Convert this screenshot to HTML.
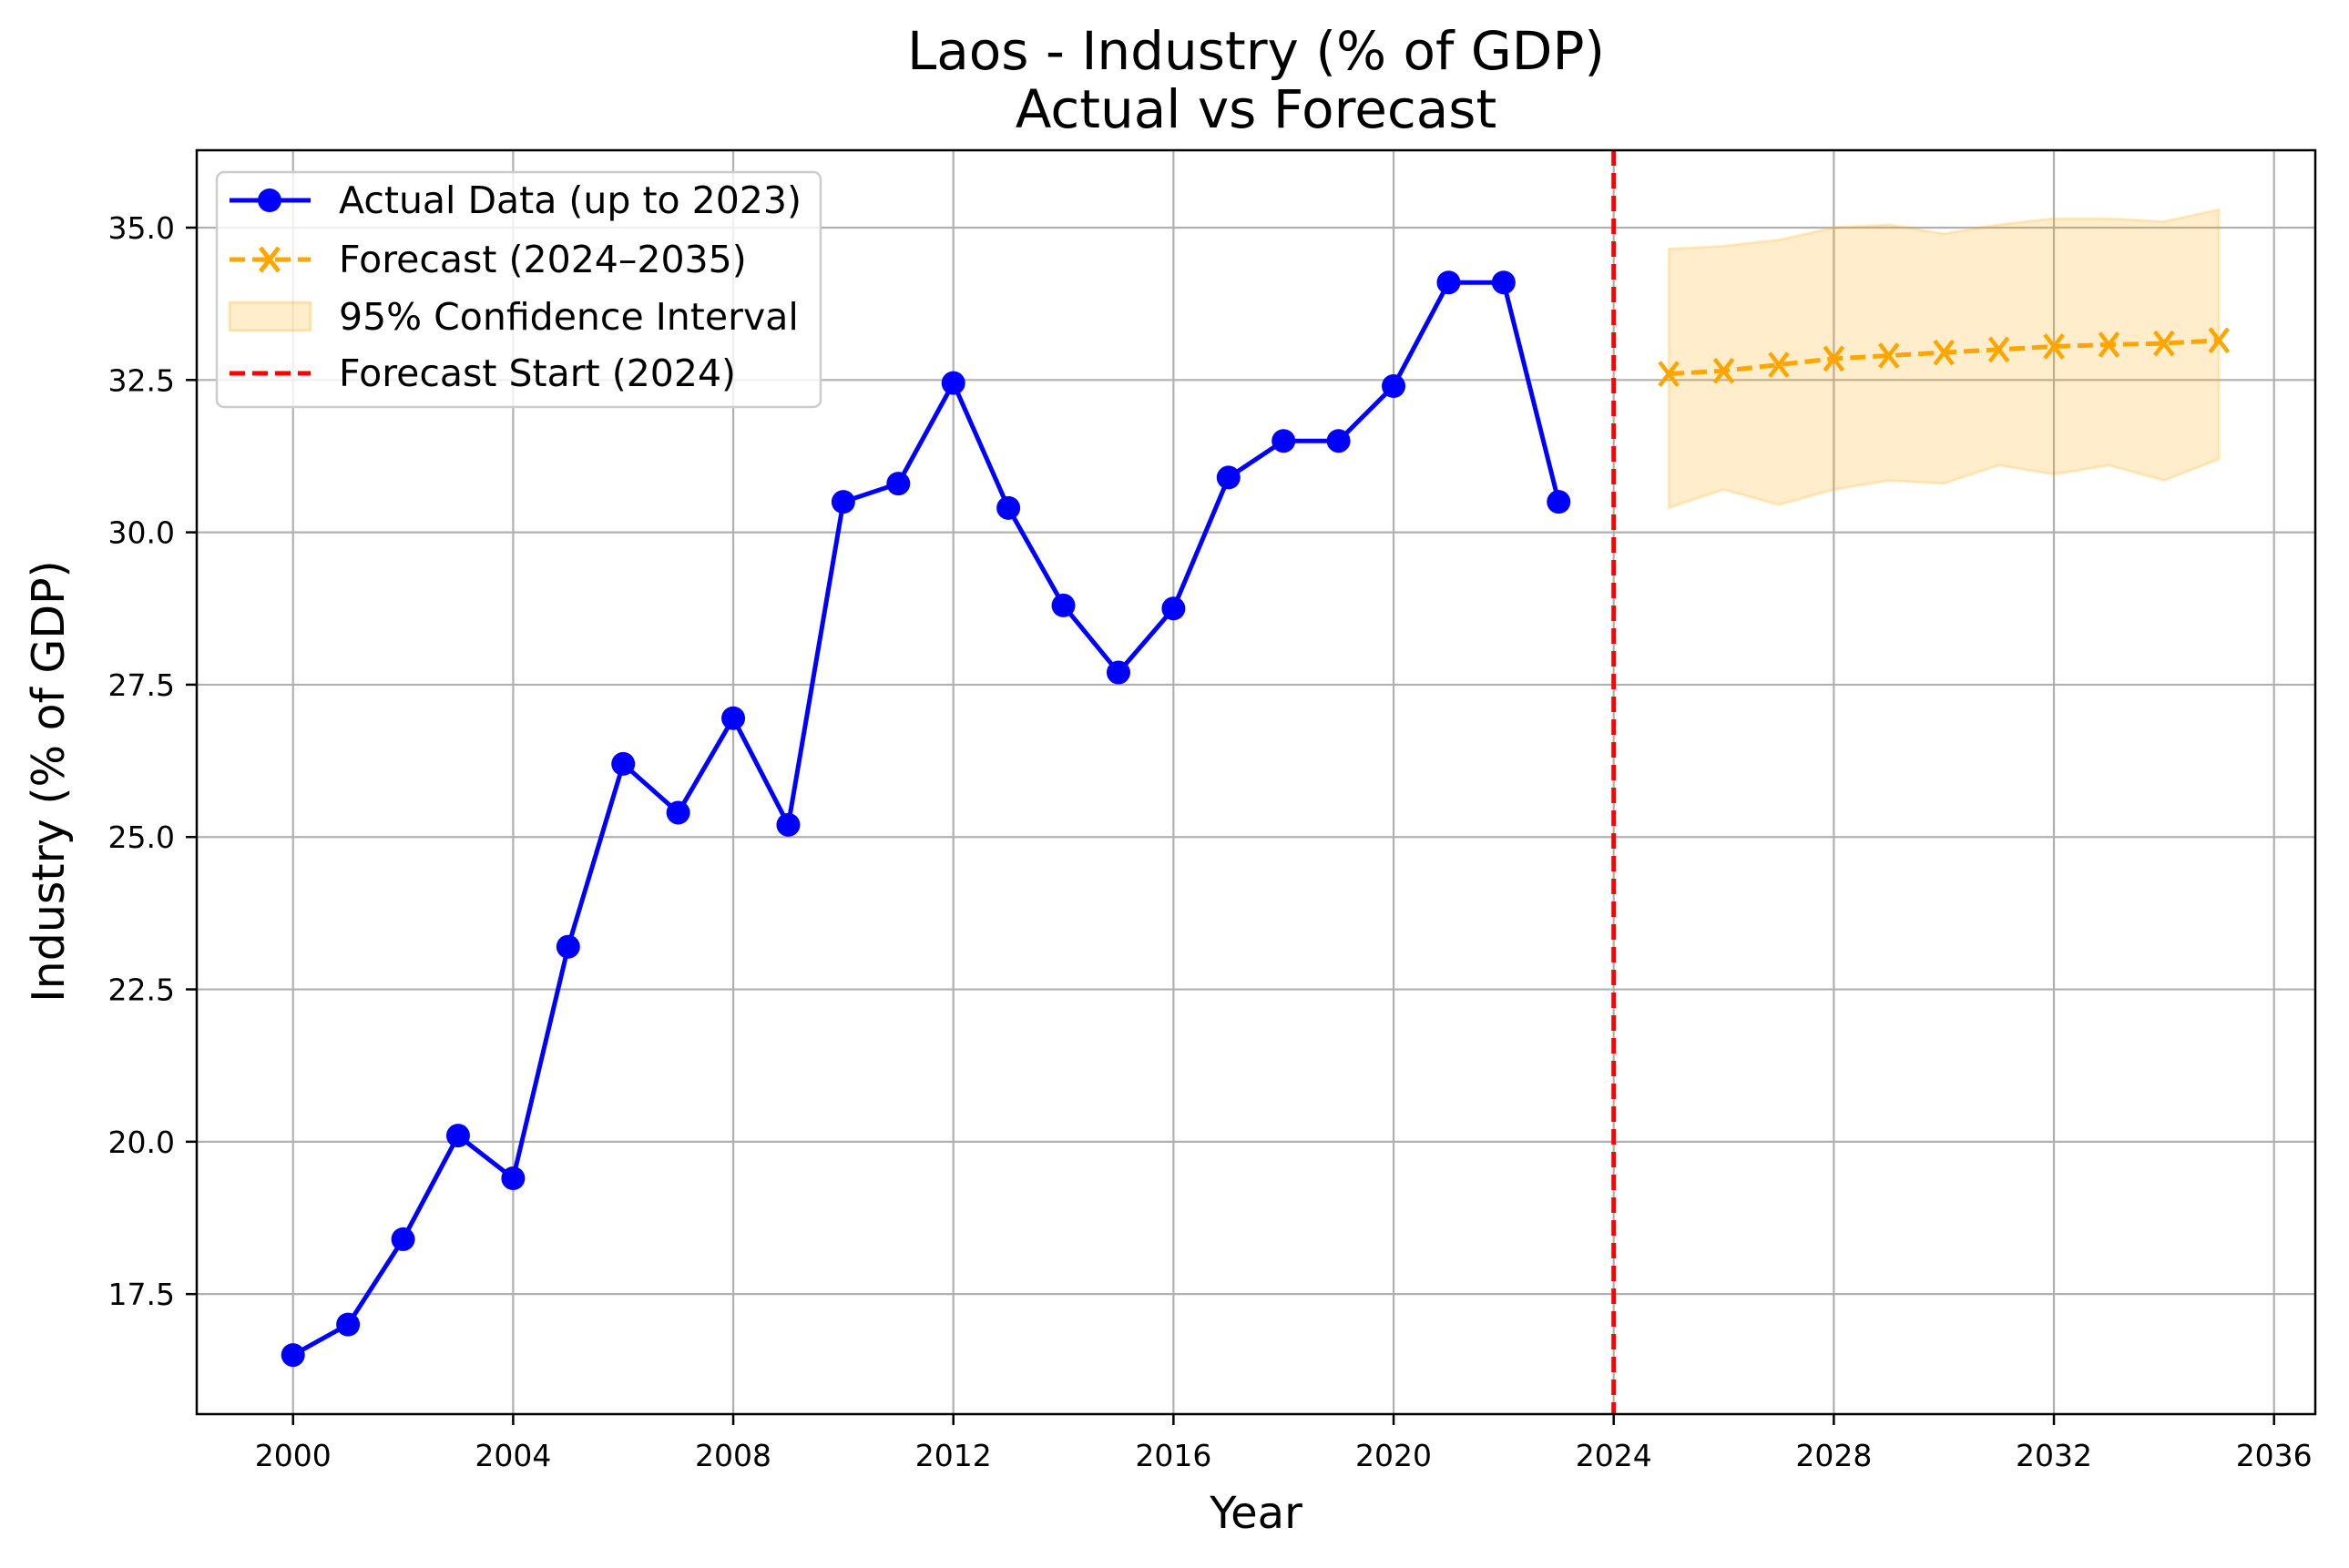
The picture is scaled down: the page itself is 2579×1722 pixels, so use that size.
<!DOCTYPE html>
<html><head><meta charset="utf-8"><style>
html,body{margin:0;padding:0;background:#fff}
svg text{font-family:"DejaVu Sans","Liberation Sans",sans-serif;fill:#000}
</style></head><body>
<svg id="chart" width="2579" height="1717" xmlns="http://www.w3.org/2000/svg">
<rect width="2579" height="1717" fill="#fff"/>
<g id="grid"></g>
<g id="ci"></g>
<g id="series"></g>
<g id="axes"></g>
<text x="1379" y="76" font-size="58" text-anchor="middle">Laos - Industry (% of GDP)</text>
<text x="1379" y="140" font-size="58" text-anchor="middle">Actual vs Forecast</text>
<text x="1379" y="1678" font-size="48" text-anchor="middle">Year</text>
<text x="70" y="858" font-size="49" text-anchor="middle" transform="rotate(-90 70 858)">Industry (% of GDP)</text>
<g id="legend">
<rect x="238" y="189" width="663" height="258" rx="8" fill="#fff" fill-opacity="0.8" stroke="#ccc" stroke-width="2.5"/>
<g>
<line x1="252" y1="220" x2="341" y2="220" stroke="#0000ff" stroke-width="5"/><circle cx="296" cy="220" r="13" fill="#0000ff"/>
<text x="372" y="234" font-size="41">Actual Data (up to 2023)</text></g>
<g>
<line x1="252" y1="285" x2="341" y2="285" stroke="#ffa500" stroke-width="5" stroke-dasharray="17,8"/><path d="M286 272 L306 298 M306 272 L286 298" stroke="#ffa500" stroke-width="5"/>
<text x="372" y="299" font-size="41">Forecast (2024–2035)</text></g>
<g>
<rect x="252" y="332" width="89" height="31" fill="#ffa500" fill-opacity="0.2" stroke="#ffa500" stroke-opacity="0.25" stroke-width="3"/>
<text x="372" y="362" font-size="41">95% Confidence Interval</text></g>
<g>
<line x1="252" y1="410" x2="341" y2="410" stroke="#ff0000" stroke-width="5" stroke-dasharray="17,8"/>
<text x="372" y="424" font-size="41">Forecast Start (2024)</text></g>
</g>
</svg>
<script>
const actualYears=[2000,2001,2002,2003,2004,2005,2006,2007,2008,2009,2010,2011,2012,2013,2014,2015,2016,2017,2018,2019,2020,2021,2022,2023];
const actualValues=[16.5,17.0,18.4,20.1,19.4,23.2,26.2,25.4,26.95,25.2,30.5,30.8,32.45,30.4,28.8,27.7,28.75,30.9,31.5,31.5,32.4,34.1,34.1,30.5];
const forecastYears=[2025,2026,2027,2028,2029,2030,2031,2032,2033,2034,2035];
const forecastValues=[32.6,32.65,32.75,32.85,32.9,32.95,33.0,33.05,33.08,33.1,33.15];
const ciUpper=[34.65,34.7,34.8,35.0,35.05,34.9,35.05,35.15,35.15,35.1,35.3];
const ciLower=[30.4,30.7,30.45,30.7,30.85,30.8,31.1,30.95,31.1,30.85,31.2];
const xTicks=[2000,2004,2008,2012,2016,2020,2024,2028,2032,2036];
const yTicks=[17.5,20.0,22.5,25.0,27.5,30.0,32.5,35.0];
const forecastStart=2024;

const L=216,R=2542,T=165,B=1553,X0=1998.25,X1=2036.75,Y0=15.53,Y1=36.27;
const NS='http://www.w3.org/2000/svg';
function sx(v){return L+(v-X0)/(X1-X0)*(R-L);}
function sy(v){return B-(v-Y0)/(Y1-Y0)*(B-T);}
function mk(tag,attrs,parent){const e=document.createElementNS(NS,tag);for(const k in attrs)e.setAttribute(k,attrs[k]);parent.appendChild(e);return e;}
const grid=document.getElementById('grid'),axes=document.getElementById('axes'),ci=document.getElementById('ci'),ser=document.getElementById('series');

xTicks.forEach(t=>{const x=sx(t);
 const g=mk('line',{x1:x,x2:x,y1:T,y2:B,stroke:'#b0b0b0','stroke-width':2.2},grid);
 
 
 mk('line',{x1:x,x2:x,y1:B,y2:B+12,stroke:'#000','stroke-width':2.5},axes);
 const tx=mk('text',{x:x,y:B+57,'font-size':33,'text-anchor':'middle'},axes);tx.textContent=t;
 
 
});
yTicks.forEach(t=>{const y=sy(t);
 const g=mk('line',{x1:L,x2:R,y1:y,y2:y,stroke:'#b0b0b0','stroke-width':2.2},grid);
 
 
 mk('line',{x1:L-12,x2:L,y1:y,y2:y,stroke:'#000','stroke-width':2.5},axes);
 const tx=mk('text',{x:L-24,y:y+12,'font-size':33,'text-anchor':'end'},axes);tx.textContent=t.toFixed(1);
 
 
});
const frame=mk('rect',{x:L,y:T,width:R-L,height:B-T,fill:'none',stroke:'#000','stroke-width':2.5},axes);



let d='';forecastYears.forEach((yr,i)=>{d+=(i?'L':'M')+sx(yr)+' '+sy(ciUpper[i])+' ';});
for(let i=forecastYears.length-1;i>=0;i--)d+='L'+sx(forecastYears[i])+' '+sy(ciLower[i])+' ';
const band=mk('path',{d:d+'Z',fill:'#ffa500','fill-opacity':0.2,stroke:'#ffa500','stroke-opacity':0.2,'stroke-width':3},ci);



const aPts=actualYears.map((yr,i)=>sx(yr)+','+sy(actualValues[i])).join(' ');
const al=mk('polyline',{points:aPts,fill:'none',stroke:'#0000ff','stroke-width':5},ser);


actualYears.forEach((yr,i)=>{const c=mk('circle',{cx:sx(yr),cy:sy(actualValues[i]),r:13,fill:'#0000ff'},ser);
 
 });

const fPts=forecastYears.map((yr,i)=>sx(yr)+','+sy(forecastValues[i])).join(' ');
const fl=mk('polyline',{points:fPts,fill:'none',stroke:'#ffa500','stroke-width':5,'stroke-dasharray':'17,8'},ser);


forecastYears.forEach((yr,i)=>{const x=sx(yr),y=sy(forecastValues[i]);
 const m=mk('path',{d:`M${x-10} ${y-13} L${x+10} ${y+13} M${x+10} ${y-13} L${x-10} ${y+13}`,stroke:'#ffa500','stroke-width':4.5},ser);
 
 });

const vl=mk('line',{x1:sx(forecastStart),x2:sx(forecastStart),y1:T,y2:B,stroke:'#ff0000','stroke-width':5,'stroke-dasharray':'17,8'},ser);


</script>
</body></html>
